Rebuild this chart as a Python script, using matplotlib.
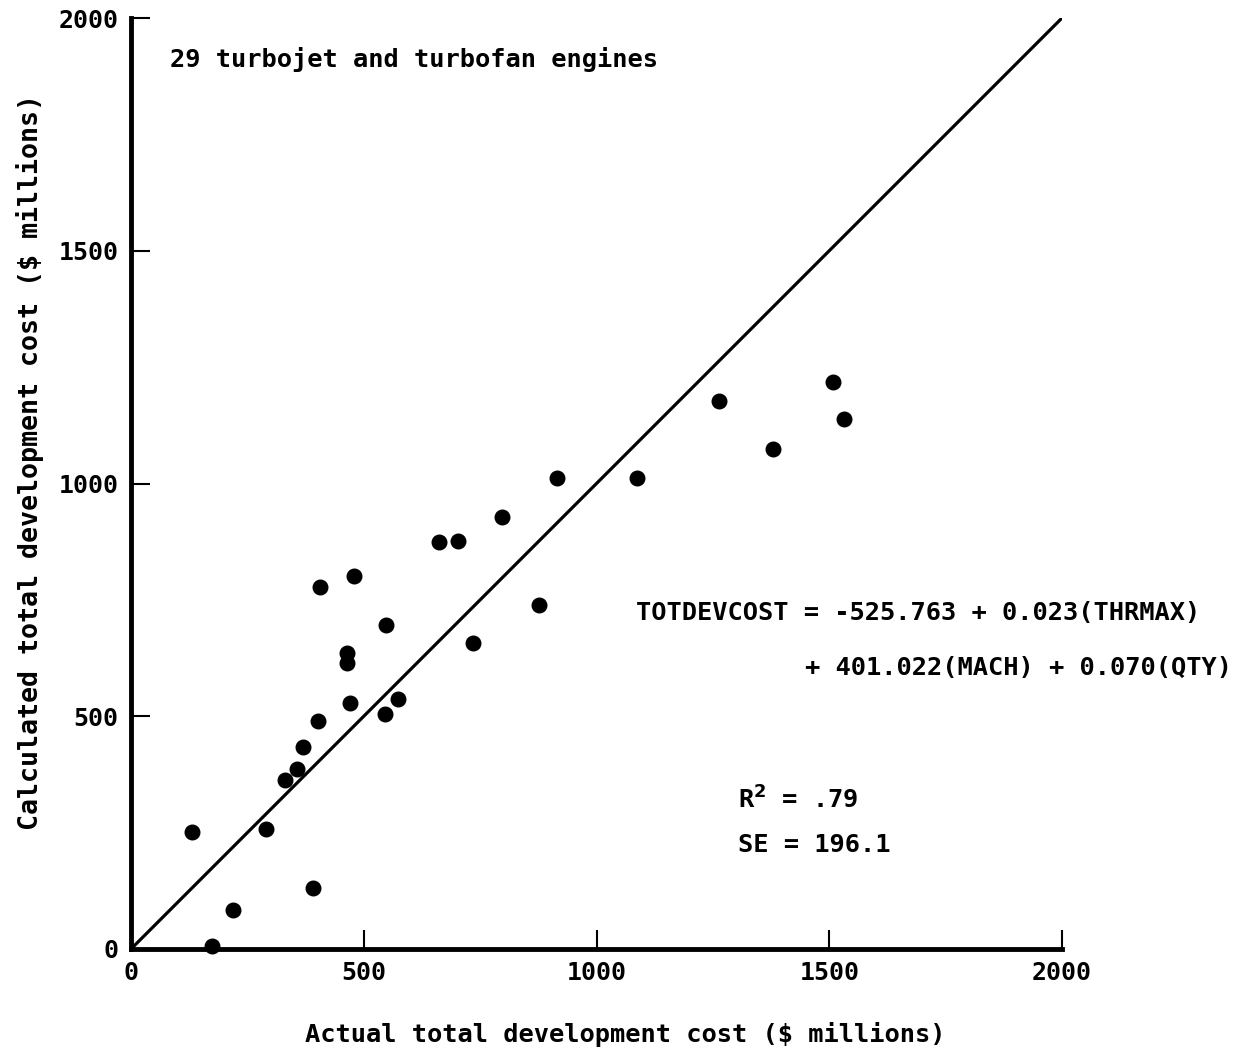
import matplotlib
matplotlib.use("Agg")
import matplotlib.pyplot as plt

# Data ($ millions)
actual = [132, 173, 220, 290, 330, 356, 369, 401, 392, 407, 463, 463, 470, 480,
          546, 547, 573, 662, 702, 735, 798, 877, 916, 1086, 1264, 1379, 1508, 1532]
calculated = [252, 6, 84, 258, 363, 387, 433, 489, 131, 778, 635, 615, 528, 801,
              504, 697, 537, 874, 876, 657, 927, 739, 1012, 1012, 1177, 1074, 1219, 1138]
ticks = [0, 500, 1000, 1500, 2000]
tick_labels = ["0", "500", "1000", "1500", "2000"]

FONT = "DejaVu Sans Mono"
FS = 18.3
plt.rcParams['font.family'] = [FONT]

fig = plt.figure(figsize=(12.42, 10.53), dpi=100)
ax = fig.add_axes([131/1242, 1 - 949/1053, (1062-131)/1242, (949-18)/1053])

ax.plot([0, 2000], [0, 2000], color="black", lw=2.3, solid_capstyle="butt")
ax.scatter(actual, calculated, s=110, color="black", zorder=3, clip_on=False)

ax.set_xlim(0, 2000)
ax.set_ylim(0, 2000)
ax.set_xticks(ticks)
ax.set_xticklabels(tick_labels)
ax.set_yticks(ticks)
ax.set_yticklabels(tick_labels)
for s in ["top", "right"]:
    ax.spines[s].set_visible(False)
for s in ["left", "bottom"]:
    ax.spines[s].set_linewidth(3.5)
ax.tick_params(direction="in", length=14, width=1.5, labelsize=18, pad=9)
for lab in ax.get_xticklabels() + ax.get_yticklabels():
    lab.set_fontweight("bold")

ax.set_xlabel("Actual total development cost ($ millions)", fontsize=FS,
              fontweight="bold")
ax.xaxis.set_label_coords((625 - 131) / 931, (949 - 1022) / 931)
ax.set_ylabel("Calculated total development cost ($ millions)", fontsize=19.2,
              fontweight="bold")
ax.yaxis.set_label_coords((44 - 131) / 931, (949 - 462) / 931)

ax.text(84, 1910, "29 turbojet and turbofan engines", fontsize=FS,
        fontweight="bold", va="center", ha="left")
ax.text(1085, 722, "TOTDEVCOST = -525.763 + 0.023(THRMAX)", fontsize=FS,
        fontweight="bold", va="center", ha="left")
ax.text(1448, 604, "+ 401.022(MACH) + 0.070(QTY)", fontsize=FS,
        fontweight="bold", va="center", ha="left")
ax.text(1304, 320, r"R$^\mathbf{2}$ = .79", fontsize=FS,
        fontweight="bold", va="center", ha="left")
ax.text(1304, 223, "SE = 196.1", fontsize=FS,
        fontweight="bold", va="center", ha="left")

fig.savefig("out.png", dpi=100)
